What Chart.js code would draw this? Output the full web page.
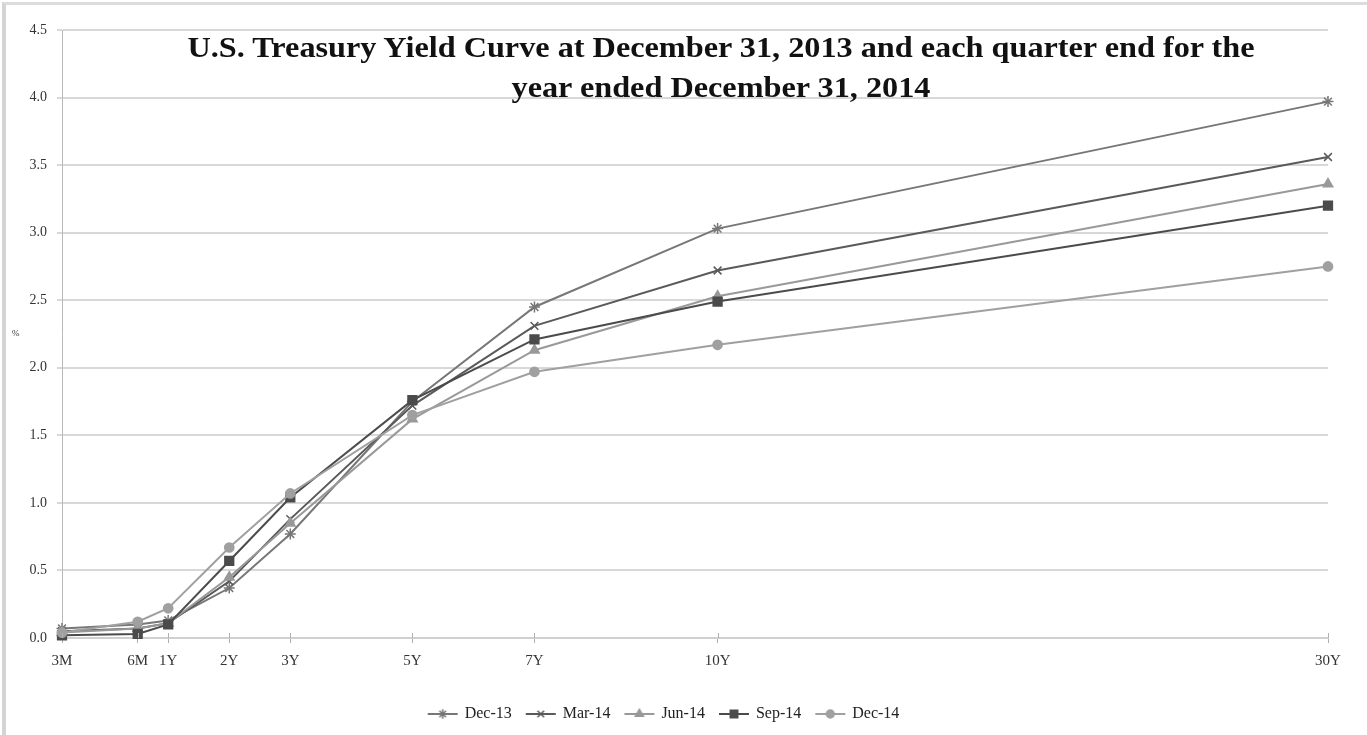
<!DOCTYPE html>
<html>
<head>
<meta charset="utf-8">
<script src="https://cdn.jsdelivr.net/npm/chart.js@4.4.1/dist/chart.umd.min.js"></script>
<style>
  html, body { margin: 0; padding: 0; background: #fff; }
  #wrap { position: relative; width: 1367px; height: 735px; overflow: hidden; }
  #frame { position: absolute; left: 2px; top: 2px; width: 1361px; height: 740px;
           border-left: 4px solid #d4d4d4; border-top: 3px solid #dcdcdc; border-right: 2px solid #ececec; }
  #chart { position: absolute; left: 0; top: 0; }
  #title { position: absolute; left: 121px; width: 1200px; top: 27px; text-align: center;
           font: bold 30px "Liberation Serif", "Times New Roman", serif; line-height: 40px;
           color: #111; white-space: nowrap; transform: scaleX(1.075); transform-origin: 600px 0; }
  #unit { position: absolute; left: 12px; top: 328px; font: 9px "Liberation Serif", serif; color: #333; }
</style>
</head>
<body>
<div id="wrap">
  <canvas id="chart" width="1367" height="735"></canvas>
  <div id="frame"></div>
  <div id="title">U.S. Treasury Yield Curve at December 31, 2013 and each quarter end for the<br>year ended December 31, 2014</div>
  <div id="unit">%</div>
</div>
<script>
// Tenors along the curve and the slot each one takes on the horizontal axis
const tenorLabels = ['3M', '6M', '1Y', '2Y', '3Y', '5Y', '7Y', '10Y', '30Y'];
const tenorSlots  = [-0.74, 0.5, 1, 2, 3, 5, 7, 10, 20];

// Yields (%) at each quarter end
const dec13 = [0.07, 0.10, 0.13, 0.37, 0.77, 1.75, 2.45, 3.03, 3.97];
const mar14 = [0.05, 0.07, 0.11, 0.42, 0.88, 1.72, 2.31, 2.72, 3.56];
const jun14 = [0.04, 0.07, 0.11, 0.45, 0.85, 1.62, 2.13, 2.53, 3.36];
const sep14 = [0.02, 0.03, 0.10, 0.57, 1.04, 1.76, 2.21, 2.49, 3.20];
const dec14 = [0.04, 0.12, 0.22, 0.67, 1.07, 1.65, 1.97, 2.17, 2.75];

const yTicks = [0, 0.5, 1.0, 1.5, 2.0, 2.5, 3.0, 3.5, 4.0, 4.5];

const seriesDefs = [
  { label: 'Dec-13', values: dec13, color: '#777777', style: 'star',     radius: 5.5 },
  { label: 'Mar-14', values: mar14, color: '#5a5a5a', style: 'crossRot', radius: 5.5 },
  { label: 'Jun-14', values: jun14, color: '#999999', style: 'triangle', radius: 5.5 },
  { label: 'Sep-14', values: sep14, color: '#4b4b4b', style: 'rect',     radius: 6.2 },
  { label: 'Dec-14', values: dec14, color: '#a0a0a0', style: 'circle',   radius: 4.6 }
];

const serif = "'Liberation Serif', 'Times New Roman', serif";

// Legend swatch: short line with the series marker in the middle
function legendSwatch(def) {
  const c = document.createElement('canvas');
  c.width = 32; c.height = 14;
  const ctx = c.getContext('2d');
  ctx.strokeStyle = def.color;
  ctx.lineWidth = 2;
  ctx.beginPath(); ctx.moveTo(1, 7); ctx.lineTo(31, 7); ctx.stroke();
  ctx.fillStyle = def.color;
  ctx.lineWidth = 1.5;
  Chart.helpers.drawPoint(ctx, { pointStyle: def.style, rotation: 0, radius: def.radius * 0.85, borderWidth: 1.5 }, 16, 7);
  return c;
}

// Small tick marks that cross the category axis line
const crossTicks = {
  id: 'crossTicks',
  afterDatasetsDraw(chart) {
    const x = chart.scales.x, ctx = chart.ctx, yb = chart.chartArea.bottom;
    ctx.save();
    ctx.strokeStyle = '#b0b0b0';
    ctx.lineWidth = 1;
    x.ticks.forEach(t => {
      const px = Math.round(x.getPixelForValue(t.value)) + 0.5;
      ctx.beginPath(); ctx.moveTo(px, yb - 5); ctx.lineTo(px, yb); ctx.stroke();
    });
    ctx.restore();
  }
};

const datasets = seriesDefs.map((d, i) => ({
  label: d.label,
  data: d.values.map((v, k) => ({ x: tenorSlots[k], y: v })),
  borderColor: d.color,
  backgroundColor: d.color,
  pointBorderColor: d.color,
  pointBackgroundColor: d.color,
  pointStyle: d.style,
  pointRadius: d.radius,
  pointBorderWidth: 1.5,
  borderWidth: 2,
  tension: 0,
  clip: false,
  order: seriesDefs.length - i
}));

new Chart(document.getElementById('chart'), {
  type: 'line',
  data: { datasets },
  plugins: [crossTicks],
  options: {
    responsive: false,
    animation: false,
    layout: { padding: { top: 30, right: 39, bottom: 3, left: 0 } },
    plugins: {
      title: { display: false },
      tooltip: { enabled: false },
      legend: {
        position: 'bottom',
        labels: {
          usePointStyle: true,
          pointStyleWidth: 28,
          padding: 15,
          color: '#222',
          font: { family: serif, size: 16 },
          generateLabels: (chart) => seriesDefs.map((d, i) => ({
            text: d.label,
            pointStyle: legendSwatch(d),
            fillStyle: d.color,
            strokeStyle: d.color,
            lineWidth: 0,
            hidden: false,
            datasetIndex: i,
            fontColor: '#222'
          }))
        }
      }
    },
    scales: {
      x: {
        type: 'linear',
        min: tenorSlots[0],
        max: tenorSlots[tenorSlots.length - 1],
        afterBuildTicks: (s) => { s.ticks = tenorSlots.map(v => ({ value: v })); },
        afterFit: (s) => { s.height = 53; },
        ticks: {
          autoSkip: false,
          maxRotation: 0,
          padding: 9,
          color: '#333',
          font: { family: serif, size: 15 },
          callback: (v, i) => tenorLabels[i]
        },
        grid: { drawOnChartArea: false, drawTicks: true, tickLength: 5, color: '#b0b0b0', lineWidth: 1 },
        border: { display: true, color: '#d0d0d0', width: 2 }
      },
      y: {
        min: 0,
        max: 4.5,
        afterBuildTicks: (s) => { s.ticks = yTicks.map(v => ({ value: v })); },
        afterFit: (s) => { s.width = 62; },
        ticks: {
          padding: 10,
          color: '#333',
          font: { family: serif, size: 14 },
          callback: (v) => v.toFixed(1)
        },
        grid: { color: '#d8d8d8', lineWidth: 2, tickLength: 5 },
        border: { display: true, color: '#b8b8b8', width: 1 }
      }
    }
  }
});
</script>
</body>
</html>
